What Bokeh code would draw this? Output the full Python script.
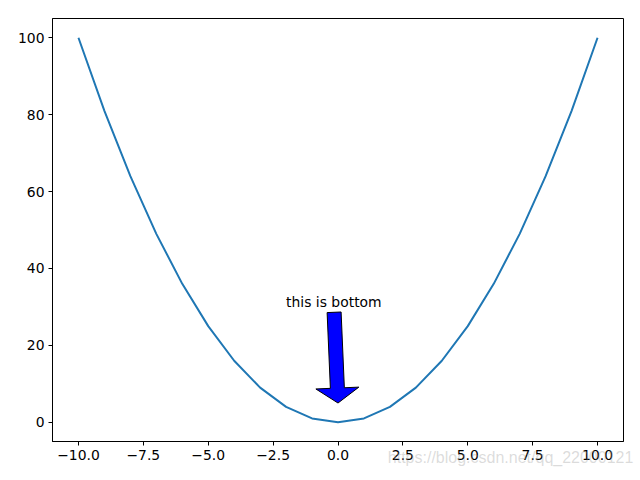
import math
from bokeh.plotting import figure
from bokeh.models import Range1d, FixedTicker, Label, CustomJSTickFormatter, LinearAxis
from bokeh.embed import file_html
from bokeh.resources import INLINE

# ---- data ----
x_vals = [-10, -9, -8, -7, -6, -5, -4, -3, -2, -1, 0, 1, 2, 3, 4, 5, 6, 7, 8, 9, 10]
y_vals = [100, 81, 64, 49, 36, 25, 16, 9, 4, 1, 0, 1, 4, 9, 16, 25, 36, 49, 64, 81, 100]
x_ticks = [-10, -7.5, -5, -2.5, 0, 2.5, 5, 7.5, 10]
x_tick_labels = ["\u221210.0", "\u22127.5", "\u22125.0", "\u22122.5", "0.0", "2.5", "5.0", "7.5", "10.0"]
y_ticks = [0, 20, 40, 60, 80, 100]
y_tick_labels = ["0", "20", "40", "60", "80", "100"]
annot_text = "this is bottom"
annot_text_pos = (-2, 30)
arrow_tail = (-0.15, 28.6)
arrow_tip = (0, 5)
watermark = "https://blog.csdn.net/qq_22000121"
watermark_center_x = 6.65

# ---- layout ----
W, H = 640, 480
ML, MR, MT, MB = 52, 17, 18, 39
XR = (-11, 11)
YR = (-5, 105)

p = figure(width=W, height=H, x_range=Range1d(*XR), y_range=Range1d(*YR),
           output_backend="svg", toolbar_location=None,
           min_border_left=ML, min_border_right=MR, min_border_top=MT, min_border_bottom=MB,
           background_fill_color="white", border_fill_color="white")
p.xgrid.visible = False
p.ygrid.visible = False
p.outline_line_color = "black"
p.outline_line_width = 1
p.outline_line_alpha = 1

fmt_code = "const i = tv.indexOf(tick); return i >= 0 ? tl[i] : '';"
p.xaxis.ticker = FixedTicker(ticks=x_ticks)
p.xaxis.formatter = CustomJSTickFormatter(args=dict(tv=x_ticks, tl=x_tick_labels), code=fmt_code)
p.yaxis.ticker = FixedTicker(ticks=y_ticks)
p.yaxis.formatter = CustomJSTickFormatter(args=dict(tv=y_ticks, tl=y_tick_labels), code=fmt_code)
for ax in (p.xaxis, p.yaxis):
    ax.axis_line_color = "black"
    ax.axis_line_width = 1
    ax.major_tick_line_color = "black"
    ax.major_tick_out = 4
    ax.major_tick_in = 0
    ax.minor_tick_line_color = None
    ax.major_label_text_font = "DejaVu Sans"
    ax.major_label_text_font_size = "13.9px"
    ax.major_label_text_color = "black"
    ax.major_label_standoff = 4

p.line(x_vals, y_vals, line_color="#1f77b4", line_width=2)

# ---- annotation arrow (built in pixel space, converted to data) ----
fw = W - ML - MR
fh = H - MT - MB
sx = fw / (XR[1] - XR[0])
sy = fh / (YR[1] - YR[0])
tx, ty = arrow_tail[0] * sx, arrow_tail[1] * sy
hx, hy = arrow_tip[0] * sx, arrow_tip[1] * sy
L = math.hypot(hx - tx, hy - ty)
ux, uy = (hx - tx) / L, (hy - ty) / L
nx, ny = -uy, ux
bw, hw, hl = 7.0, 21.5, 15.0
neckx, necky = hx - ux * hl, hy - uy * hl
pts = [
    (tx + nx * bw, ty + ny * bw),
    (neckx + nx * bw, necky + ny * bw),
    (neckx + nx * hw, necky + ny * hw),
    (hx, hy),
    (neckx - nx * hw, necky - ny * hw),
    (neckx - nx * bw, necky - ny * bw),
    (tx - nx * bw, ty - ny * bw),
]
p.patch([a / sx for a, b in pts], [b / sy for a, b in pts],
        fill_color="blue", line_color="black", line_width=1)

p.add_layout(Label(x=annot_text_pos[0], y=annot_text_pos[1], text=annot_text,
                   text_font="DejaVu Sans", text_font_size="13.9px", text_color="black",
                   text_align="left", text_baseline="alphabetic", y_offset=5))

# watermark: drawn as the single label of an extra, line-less axis below the x axis
wm_axis = LinearAxis(
    ticker=FixedTicker(ticks=[watermark_center_x]),
    formatter=CustomJSTickFormatter(args=dict(wm=watermark), code="return wm;"),
    axis_line_color=None, major_tick_line_color=None, minor_tick_line_color=None,
    major_tick_out=0, major_tick_in=0, major_label_standoff=-14,
    major_label_text_font="Liberation Sans", major_label_text_font_size="16px",
    major_label_text_color="#999999", major_label_text_alpha=0.35,
)
p.add_layout(wm_axis, "below")

open("out.html", "w").write(file_html(p, INLINE))
